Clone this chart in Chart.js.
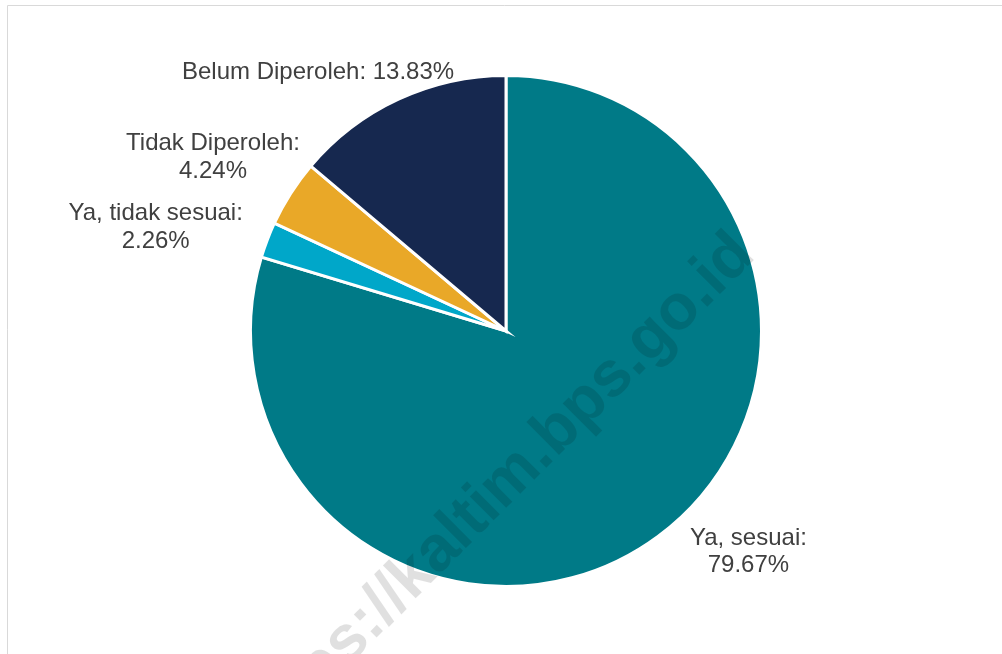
<!DOCTYPE html>
<html>
<head>
<meta charset="utf-8">
<script src="https://cdn.jsdelivr.net/npm/chart.js@4/dist/chart.umd.min.js"></script>
<style>
    html, body { margin: 0; padding: 0; background: #fff; }
    #wrap { position: relative; width: 1002px; height: 654px; overflow: hidden; }
</style>
</head>
<body>
<div id="wrap">
    <canvas id="pie-chart" width="1002" height="654"></canvas>
</div>
<script>
const categories = ['Ya, sesuai', 'Ya, tidak sesuai', 'Tidak Diperoleh', 'Belum Diperoleh'];
const percentages = [79.67, 2.26, 4.24, 13.83];
const slice_colors = ['#007A87', '#00A7C9', '#E9A828', '#16284F'];

// label layout: offset of the first baseline from the slice's outer midpoint, and whether the value goes on a second line
const label_offsets = [[91, 10], [-113, -20], [-79, -44], [-81, -22]];
const label_wrap = [true, true, true, false];

const FONT = '"Liberation Sans", Arial, sans-serif';

// light frame on the top and left edge
const frame_plugin = {
    id: 'frame',
    beforeDraw(chart) {
        const ctx = chart.ctx;
        ctx.save();
        ctx.strokeStyle = '#D9D9D9';
        ctx.lineWidth = 1;
        ctx.beginPath();
        ctx.moveTo(7.5, chart.height);
        ctx.lineTo(7.5, 5.5);
        ctx.lineTo(chart.width, 5.5);
        ctx.stroke();
        ctx.restore();
    }
};

// diagonal site stamp across the chart
const watermark_plugin = {
    id: 'watermark',
    afterDatasetsDraw(chart) {
        const ctx = chart.ctx;
        ctx.save();
        ctx.translate(757, 257);
        ctx.rotate(-Math.PI / 4);
        ctx.font = 'bold 64px ' + FONT;
        ctx.fillStyle = 'rgba(0, 0, 0, 0.12)';
        ctx.textAlign = 'right';
        ctx.textBaseline = 'alphabetic';
        ctx.fillText('https://kaltim.bps.go.id', 0, 0);
        ctx.restore();
    }
};

// "label: value%" next to each slice
const slice_labels_plugin = {
    id: 'sliceLabels',
    afterDraw(chart) {
        const ctx = chart.ctx;
        const meta = chart.getDatasetMeta(0);
        ctx.save();
        ctx.font = '24px ' + FONT;
        ctx.fillStyle = '#404040';
        ctx.textAlign = 'center';
        ctx.textBaseline = 'alphabetic';
        meta.data.forEach((arc, i) => {
            const { x, y, startAngle, endAngle, outerRadius } = arc.getProps(['x', 'y', 'startAngle', 'endAngle', 'outerRadius'], true);
            const mid = (startAngle + endAngle) / 2;
            const r = outerRadius - 1.5;
            const px = x + Math.cos(mid) * r + label_offsets[i][0];
            const py = y + Math.sin(mid) * r + label_offsets[i][1];
            const value = percentages[i].toFixed(2) + '%';
            if (label_wrap[i]) {
                ctx.fillText(categories[i] + ':', px, py);
                ctx.fillText(value, px, py + 27.5);
            } else {
                ctx.fillText(categories[i] + ': ' + value, px, py);
            }
        });
        ctx.restore();
    }
};

const config = {
    type: 'pie',
    data: {
        labels: categories,
        datasets: [{
            data: percentages,
            backgroundColor: slice_colors,
            borderColor: '#FFFFFF',
            borderWidth: 3,
            borderJoinStyle: 'miter'
        }]
    },
    options: {
        responsive: false,
        animation: false,
        layout: {
            padding: { top: 74, bottom: 66, left: 10, right: 0 }
        },
        plugins: {
            legend: { display: false },
            tooltip: { enabled: false }
        }
    },
    plugins: [frame_plugin, watermark_plugin, slice_labels_plugin]
};

new Chart(document.getElementById('pie-chart'), config);
</script>
</body>
</html>
